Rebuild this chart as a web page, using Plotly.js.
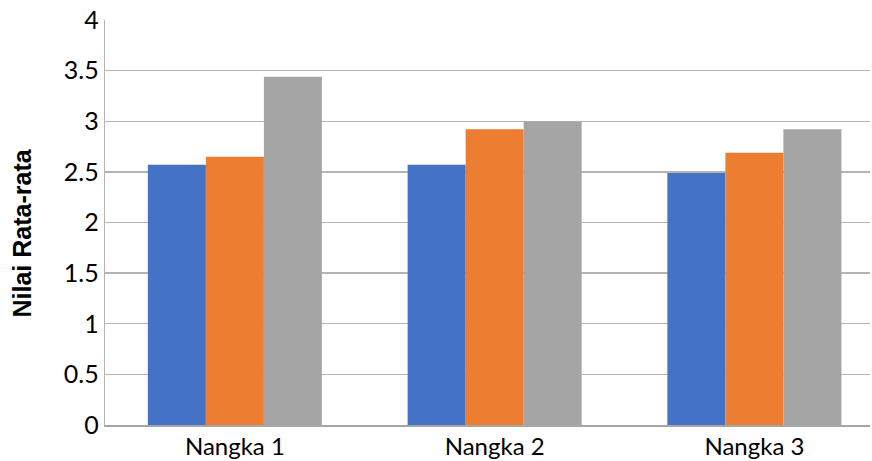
<!DOCTYPE html>
<html>
<head>
<meta charset="utf-8">
<script src="https://cdn.plot.ly/plotly-3.0.1.min.js"></script>
<style>html,body{margin:0;padding:0;background:#fff;}#chart{width:872px;height:461px;}</style>
</head>
<body>
<div id="chart"></div>
<script>
const categories = ["Nangka 1", "Nangka 2", "Nangka 3"];
const series1 = [2.57, 2.57, 2.49];
const series2 = [2.65, 2.92, 2.69];
const series3 = [3.44, 3.00, 2.92];
const colors = ["#4472C4", "#ED7D31", "#A5A5A5"];
const yTicks = [0, 0.5, 1, 1.5, 2, 2.5, 3, 3.5, 4];
const yTickText = ["0", "0.5", "1", "1.5", "2", "2.5", "3", "3.5", "4"];
const yTitle = "Nilai Rata-rata";

const traces = [series1, series2, series3].map((v, i) => ({
  type: "bar",
  x: categories,
  y: v,
  marker: {color: colors[i]},
  hoverinfo: "none"
}));

const layout = {
  width: 872,
  height: 461,
  margin: {l: 105, r: 2, t: 20, b: 36},
  paper_bgcolor: "#fff",
  plot_bgcolor: "#fff",
  showlegend: false,
  barmode: "group",
  bargap: 0.33,
  bargroupgap: 0,
  font: {family: "Lato, 'Open Sans', sans-serif", color: "#000", size: 18},
  xaxis: {
    type: "category",
    range: [-0.5, 2.445],
    showgrid: false,
    showline: true,
    linecolor: "#a6a6a6",
    linewidth: 1.5,
    ticks: "",
    tickfont: {size: 24},
    fixedrange: true
  },
  yaxis: {
    range: [0, 4],
    tickvals: yTicks,
    ticktext: yTickText,
    showgrid: true,
    gridcolor: "#b4b4b4",
    gridwidth: 1.3,
    showline: true,
    linecolor: "#b4b4b4",
    linewidth: 1.3,
    zeroline: false,
    ticks: "",
    tickfont: {size: 25},
    fixedrange: true
  },
  annotations: [{
    text: "<b>" + yTitle + "</b>",
    textangle: -90,
    xref: "paper", yref: "paper",
    x: 0, y: 0.5,
    xanchor: "center", yanchor: "middle",
    xshift: -84, yshift: -11,
    showarrow: false,
    font: {size: 25, family: "'Liberation Sans', Arial, sans-serif", color: "#000"}
  }]
};

Plotly.newPlot("chart", traces, layout, {displayModeBar: false, staticPlot: true});
</script>
</body>
</html>
